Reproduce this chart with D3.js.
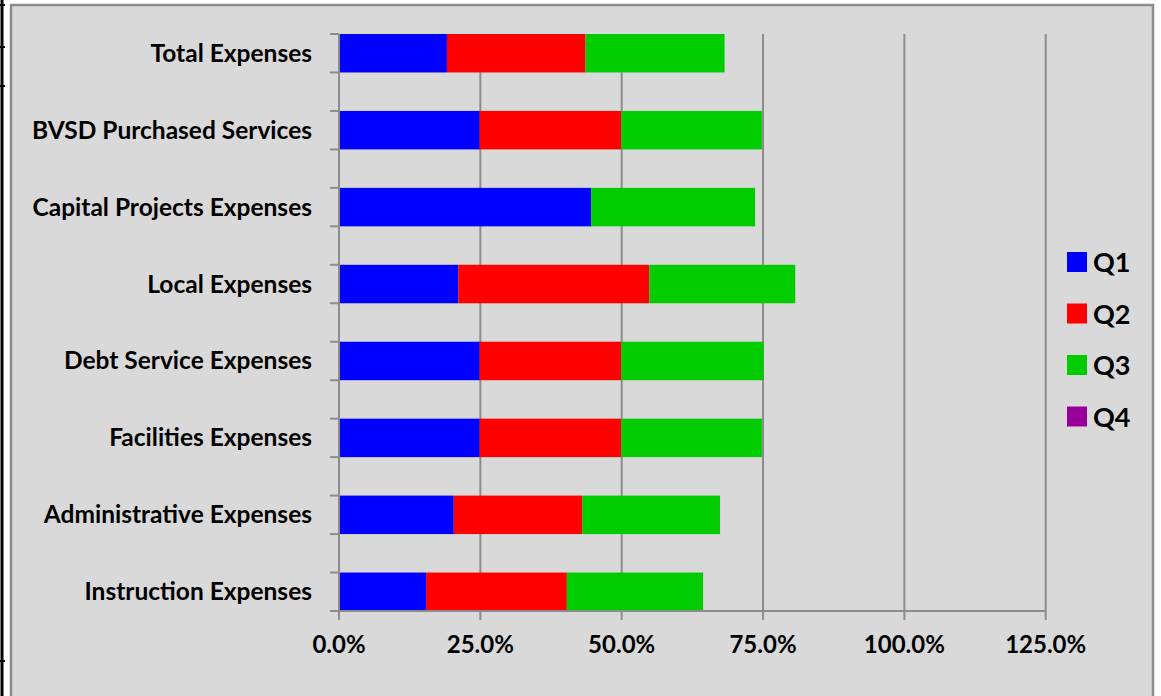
<!DOCTYPE html>
<html>
<head>
<meta charset="utf-8">
<script src="https://cdn.jsdelivr.net/npm/d3@7"></script>
<style>
  html, body { margin: 0; padding: 0; background: #fff; }
  svg text { font-family: Lato, "Open Sans", sans-serif; font-weight: bold; fill: #000; }
</style>
</head>
<body>
<div id="chart"></div>
<script>
const [width, height] = [1161, 696];

// categories, top to bottom
const categories = [
  "Total Expenses", "BVSD Purchased Services", "Capital Projects Expenses",
  "Local Expenses", "Debt Service Expenses", "Facilities Expenses",
  "Administrative Expenses", "Instruction Expenses"
];
const seriesNames = ["Q1", "Q2", "Q3", "Q4"];
const seriesColors = ["#0000ff", "#ff0000", "#00cc00", "#990099"];

// percent spent per quarter
const q1 = [19.1, 24.9, 44.6, 21.1, 24.9, 24.9, 20.3, 15.4];
const q2 = [24.5, 25.0, 0.0, 33.8, 25.0, 25.0, 22.7, 24.9];
const q3 = [24.6, 24.9, 29.0, 25.8, 25.2, 24.9, 24.4, 24.1];
const q4 = [0, 0, 0, 0, 0, 0, 0, 0];

const xTicks = [0, 25, 50, 75, 100, 125];

const rows = categories.map((c, i) => ({ cat: c, Q1: q1[i], Q2: q2[i], Q3: q3[i], Q4: q4[i] }));
const stacked = d3.stack().keys(seriesNames)(rows);

const svg = d3.select("#chart")
  .append("svg")
  .attr("width", width)
  .attr("height", height);

// odd black lines at the far left edge
svg.append("line").attr("x1", 2).attr("x2", 2).attr("y1", 0).attr("y2", height)
  .attr("stroke", "#000").attr("stroke-width", 3);
[5, 47, 86, 661].forEach(yy => {
  svg.append("line").attr("x1", 0).attr("x2", 5).attr("y1", yy).attr("y2", yy)
    .attr("stroke", "#000").attr("stroke-width", 2);
});

// chart area
svg.append("rect")
  .attr("x", 11).attr("y", 5)
  .attr("width", 1142).attr("height", 700)
  .attr("fill", "#d9d9d9")
  .attr("stroke", "#8c8c8c")
  .attr("stroke-width", 2.5);

const x = d3.scaleLinear().domain([0, 125]).range([339, 1045.7]);
const y = d3.scaleBand().domain(categories).range([34, 611]).paddingInner(0.5).paddingOuter(0);

// gridlines
svg.append("g")
  .selectAll("line")
  .data(xTicks.slice(1))
  .enter()
  .append("line")
  .attr("x1", d => x(d)).attr("x2", d => x(d))
  .attr("y1", 34).attr("y2", 611)
  .attr("stroke", "#8c8c8c").attr("stroke-width", 2);

// bars
svg.append("g")
  .selectAll("g")
  .data(stacked)
  .enter()
  .append("g")
  .attr("fill", (d, i) => seriesColors[i])
  .selectAll("rect")
  .data(d => d)
  .enter()
  .append("rect")
  .attr("x", d => x(d[0]))
  .attr("y", d => y(d.data.cat))
  .attr("width", d => x(d[1]) - x(d[0]))
  .attr("height", y.bandwidth());

// y axis line + ticks at bar edges
const yAxis = svg.append("g").attr("stroke", "#8c8c8c").attr("stroke-width", 2);
yAxis.append("line").attr("x1", x(0)).attr("x2", x(0)).attr("y1", 34).attr("y2", 612);
const yTickPos = [];
categories.forEach(c => { yTickPos.push(y(c), y(c) + y.bandwidth()); });
yAxis.selectAll("line.tick")
  .data(yTickPos)
  .enter()
  .append("line")
  .attr("class", "tick")
  .attr("x1", x(0) - 9).attr("x2", x(0))
  .attr("y1", d => d).attr("y2", d => d);

// x axis line + ticks
const xAxis = svg.append("g").attr("stroke", "#8c8c8c").attr("stroke-width", 2);
xAxis.append("line").attr("x1", x(0)).attr("x2", x(125)).attr("y1", 611).attr("y2", 611);
xAxis.selectAll("line.tick")
  .data(xTicks)
  .enter()
  .append("line")
  .attr("class", "tick")
  .attr("x1", d => x(d)).attr("x2", d => x(d))
  .attr("y1", 611).attr("y2", 620);

// category labels
svg.append("g")
  .selectAll("text")
  .data(categories)
  .enter()
  .append("text")
  .attr("x", 312)
  .attr("y", d => y(d) + y.bandwidth() / 2 + 8.5)
  .attr("text-anchor", "end")
  .style("font-size", "24.5px")
  .text(d => d);

// x tick labels
svg.append("g")
  .selectAll("text")
  .data(xTicks)
  .enter()
  .append("text")
  .attr("x", d => x(d))
  .attr("y", 653)
  .attr("text-anchor", "middle")
  .style("font-size", "24px")
  .text(d => d3.format(".1f")(d) + "%");

// legend
const legend = svg.append("g")
  .selectAll("g")
  .data(seriesNames)
  .enter()
  .append("g")
  .attr("transform", (d, i) => `translate(1067, ${252 + i * 51.5})`);

legend.append("rect")
  .attr("width", 20).attr("height", 20)
  .attr("fill", (d, i) => seriesColors[i]);

legend.append("text")
  .attr("x", 26)
  .attr("y", 20)
  .style("font-size", "27px")
  .text(d => d);
</script>
</body>
</html>
